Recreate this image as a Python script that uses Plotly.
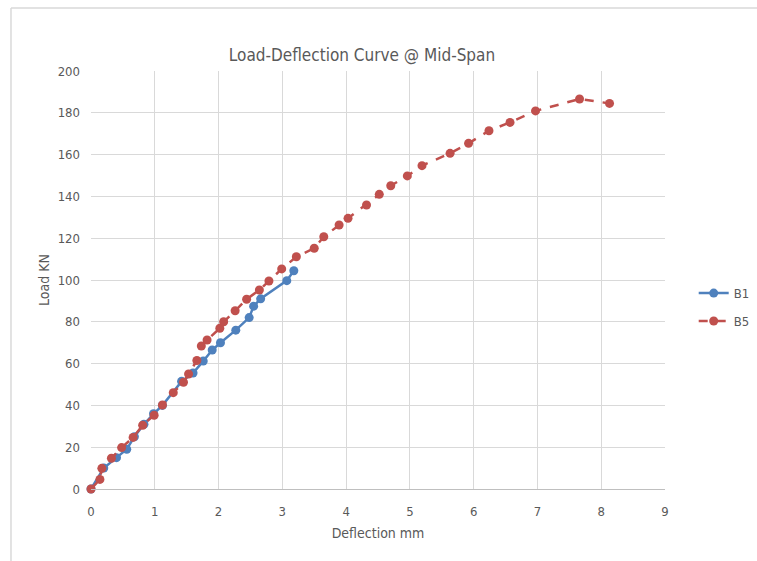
import plotly.graph_objects as go

# B1 series
b1_x = [0, 0.2, 0.4, 0.56, 0.68, 0.83, 0.98, 1.12, 1.42, 1.6, 1.76, 1.9, 2.03, 2.27, 2.48, 2.55, 2.66, 3.07, 3.18]
b1_y = [0, 10, 15, 19, 25, 31, 36, 40, 51.5, 55.5, 61.2, 66.5, 70, 76, 82, 87.5, 91, 99.7, 104.4]

# B5 series
b5_x = [0, 0.14, 0.17, 0.32, 0.48, 0.66, 0.81, 0.99, 1.12, 1.29, 1.45, 1.53, 1.66, 1.73, 1.82,
        2.02, 2.08, 2.26, 2.44, 2.64, 2.79, 2.99, 3.22, 3.50, 3.65, 3.89, 4.03, 4.32, 4.52, 4.70,
        4.96, 5.19, 5.63, 5.92, 6.24, 6.57, 6.97, 7.66, 8.13]
b5_y = [0, 4.6, 9.9, 14.7, 19.8, 24.7, 30.5, 35.3, 40.2, 46.1, 51.1, 55.0, 61.5, 68.4, 71.3,
        76.9, 80.0, 85.3, 90.8, 95.2, 99.5, 105.3, 111.1, 115.2, 120.7, 126.3, 129.5, 135.9, 141.0, 145.1,
        149.8, 154.7, 160.6, 165.4, 171.4, 175.4, 180.9, 186.6, 184.5]

x_ticks = list(range(0, 10))
y_ticks = list(range(0, 201, 20))

FONT = "Liberation Sans Narrow, DejaVu Sans Condensed, sans-serif"
GRAY = "#595959"

fig = go.Figure()
fig.add_trace(go.Scatter(x=b1_x, y=b1_y, mode="lines+markers", name="B1", legendgroup="b1",
                         cliponaxis=False,
                         line=dict(color="#4f81bd", width=2.5),
                         marker=dict(color="#4f81bd", size=9)))
fig.add_trace(go.Scatter(x=b5_x, y=b5_y, mode="lines+markers", name="B5", legendgroup="b5",
                         cliponaxis=False,
                         line=dict(color="#c0504d", width=2.5, dash="dash"),
                         marker=dict(color="#c0504d", size=9)))

fig.update_layout(
    width=757, height=561,
    margin=dict(l=91, r=92, t=71, b=72, autoexpand=False),
    paper_bgcolor="white", plot_bgcolor="white",
    font=dict(family=FONT, color=GRAY, size=13),
    title=dict(text="Load-Deflection Curve @ Mid-Span", x=362 / 757, xanchor="center",
               y=1 - 55 / 561, yanchor="middle", font=dict(size=17, color=GRAY)),
    xaxis=dict(range=[0, 9], tickvals=x_ticks, showgrid=True, gridcolor="#d9d9d9", gridwidth=1,
               zeroline=False, showline=True, linecolor="#bfbfbf", ticks="",
               ticklabelstandoff=10,
               title=dict(text="Deflection mm", font=dict(size=14), standoff=10),
               tickfont=dict(size=13)),
    yaxis=dict(range=[0, 200], tickvals=y_ticks, showgrid=True, gridcolor="#d9d9d9", gridwidth=1,
               zeroline=False, showline=False, ticks="",
               ticklabelstandoff=10,
               title=dict(text="Load KN", font=dict(size=14), standoff=4),
               tickfont=dict(size=13)),
    legend=dict(x=1.05, xanchor="left", y=0.435, yanchor="middle", tracegroupgap=8,
                font=dict(size=13, color=GRAY), bgcolor="rgba(0,0,0,0)"),
    showlegend=True,
    shapes=[
        dict(type="line", xref="paper", yref="paper", x0=-0.1394, x1=1.2, y0=1.1507, y1=1.1507,
             line=dict(color="#d9d9d9", width=1.5)),
        dict(type="line", xref="paper", yref="paper", x0=-0.1394, x1=-0.1394, y0=-0.2, y1=1.1507,
             line=dict(color="#d9d9d9", width=1.5)),
    ],
)

fig.write_html("out.html")
